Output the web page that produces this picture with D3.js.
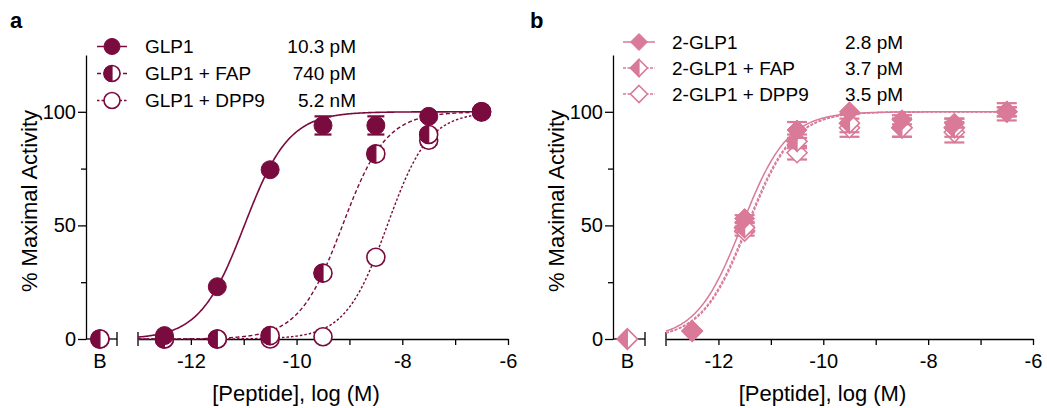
<!DOCTYPE html>
<html>
<head>
<meta charset="utf-8">
<script src="https://cdn.jsdelivr.net/npm/d3@7"></script>
<style>
  html, body { margin: 0; padding: 0; background: #fff; }
  svg { display: block; font-family: "Liberation Sans", Arial, sans-serif; }
</style>
</head>
<body>
<svg id="chart" width="1047" height="408"></svg>
<script>
// Log molar doses shared by both panels
const doses = [-12.5, -11.5, -10.5, -9.5, -8.5, -7.5, -6.5];

// Panel a: GLP1 series
const aLabels = ["GLP1", "GLP1 + FAP", "GLP1 + DPP9"];
const aEC50Text = ["10.3 pM", "740 pM", "5.2 nM"];
const aEC50Molar = [10.3e-12, 740e-12, 5.2e-9];
const aHill = [1.03, 1.05, 1.1];
const aBaseline = [null, 0, 0];
const glp1 = [1.5, 23, 74.5, 94, 94, 98, 100];
const glp1Err = [0.5, 1, 1, 4, 4, 1.5, 0.5];
const glp1Fap = [0, 0, 1.5, 29, 81.5, 90, 100];
const glp1FapErr = [0.5, 0.5, 1, 1.5, 2, 2, 0.5];
const glp1Dpp9 = [0, 0, 0, 1, 36, 87.5, 100];
const glp1Dpp9Err = [0.5, 0.5, 0.5, 1, 1.5, 2, 0.5];

// Panel b: 2-GLP1 series
const bLabels = ["2-GLP1", "2-GLP1 + FAP", "2-GLP1 + DPP9"];
const bEC50Text = ["2.8 pM", "3.7 pM", "3.5 pM"];
const bEC50Molar = [2.8e-12, 3.7e-12, 3.5e-12];
const bHill = [1.0, 1.0, 1.0];
const bBaseline = [null, 0, 0];
const glp2 = [3.5, 53, 92, 100, 96.5, 95, 100];
const glp2Err = [1, 1.5, 3.5, 1, 2, 2, 3.8];
const glp2Fap = [3.5, 49, 87, 95, 93, 93, 100];
const glp2FapErr = [0.5, 2, 3, 4, 4, 4, 2];
const glp2Dpp9 = [3.5, 47.5, 82, 93, 93, 91, 100];
const glp2Dpp9Err = [0.5, 2, 3, 4, 4, 4.5, 2];

// Axis ticks
const xTicks = [-12, -11, -10, -9, -8, -7, -6];
const xTickLabels = [-12, -10, -8, -6];
const yTicks = [0, 25, 50, 75, 100];
const yTickLabels = [0, 50, 100];
const baselineCat = ["B"];

const svg = d3.select("#chart");

function markerPath(shape, r) {
  if (shape === "circle") {
    return { full: d3.path(), r };
  }
  return null;
}

function drawMarker(g, shape, fillMode, cx, cy, r, color) {
  const m = g.append("g").attr("transform", `translate(${cx},${cy})`);
  const fullPath = shape === "circle"
    ? `M0,${-r}A${r},${r} 0 1,1 0,${r}A${r},${r} 0 1,1 0,${-r}Z`
    : `M0,${-r}L${r},0L0,${r}L${-r},0Z`;
  const leftPath = shape === "circle"
    ? `M0,${-r}A${r},${r} 0 0,0 0,${r}Z`
    : `M0,${-r}L${-r},0L0,${r}Z`;
  if (fillMode === "full") {
    m.append("path").attr("d", fullPath).attr("fill", color).attr("stroke", color).attr("stroke-width", 1);
  } else {
    m.append("path").attr("d", fullPath).attr("fill", "#fff").attr("stroke", color).attr("stroke-width", 1.6);
    if (fillMode === "half") {
      m.append("path").attr("d", leftPath).attr("fill", color).attr("stroke", color).attr("stroke-width", 1.2);
    }
  }
}

function drawPanel(cfg) {
  const g = svg.append("g");
  const x = d3.scaleLinear().domain([-13, -6]).range([cfg.x0, cfg.x1]);
  const y = d3.scaleLinear().domain([0, 125]).range([339, 55]);
  const xb = d3.scalePoint().domain(baselineCat).range([cfg.yAxisX, cfg.bEnd]).align(0.45).padding(0.5);

  // Panel letter
  g.append("text").attr("x", cfg.letterX).attr("y", 28)
    .attr("font-size", 22).attr("font-weight", "bold").text(cfg.letter);

  // Y axis
  const yAxis = g.append("g").attr("transform", `translate(${cfg.yAxisX},0)`)
    .call(d3.axisLeft(y).tickValues(yTicks).tickSizeOuter(0).tickPadding(3)
      .tickFormat(d => yTickLabels.includes(d) ? String(d) : ""));
  yAxis.selectAll(".tick line").attr("x2", d => yTickLabels.includes(d) ? -8 : -5);
  yAxis.selectAll(".tick text").attr("x", -10);
  yAxis.selectAll("text").attr("font-size", 20).attr("font-family", "Liberation Sans, Arial, sans-serif").attr("fill", "#000");
  yAxis.selectAll("path, line").attr("stroke", "#000").attr("stroke-width", 1.3);

  // Y axis title
  g.append("text")
    .attr("transform", `translate(${cfg.yAxisX - 49},201) rotate(-90)`)
    .attr("text-anchor", "middle").attr("font-size", 22).text("% Maximal Activity");

  // Baseline ("B") axis segment
  g.append("line").attr("x1", cfg.yAxisX).attr("x2", cfg.bEnd).attr("y1", y(0)).attr("y2", y(0))
    .attr("stroke", "#000").attr("stroke-width", 1.3);
  g.append("line").attr("x1", cfg.bEnd).attr("x2", cfg.bEnd).attr("y1", y(0) - 7).attr("y2", y(0) + 7)
    .attr("stroke", "#000").attr("stroke-width", 1.3);
  g.append("text").attr("x", xb("B")).attr("y", 368).attr("text-anchor", "middle")
    .attr("font-size", 20).text("B");

  // Main X axis
  const xAxis = g.append("g").attr("transform", `translate(0,${y(0)})`)
    .call(d3.axisBottom(x).tickValues(xTicks).tickSize(6).tickSizeOuter(0).tickPadding(9)
      .tickFormat(d => xTickLabels.includes(d) ? String(d) : ""));
  xAxis.selectAll("text").attr("font-size", 20).attr("font-family", "Liberation Sans, Arial, sans-serif").attr("fill", "#000");
  xAxis.selectAll("path, line").attr("stroke", "#000").attr("stroke-width", 1.3);
  g.append("line").attr("x1", x(-13)).attr("x2", x(-13)).attr("y1", y(0) - 7).attr("y2", y(0) + 7)
    .attr("stroke", "#000").attr("stroke-width", 1.3);

  // X axis title
  g.append("text").attr("x", (x(-13) + x(-6)) / 2 - 27).attr("y", 401)
    .attr("text-anchor", "middle").attr("font-size", 22).text("[Peptide], log (M)");

  // Fitted dose-response curves
  const curveX = d3.range(-13, -6.5 + 1e-9, 0.02);
  const line = d3.line().x(d => x(d[0])).y(d => y(d[1])).curve(d3.curveLinear);
  cfg.series.forEach((s, i) => {
    const logEC = Math.log10(s.ec50);
    const pts = curveX.map(v => [v, 100 / (1 + Math.pow(10, (logEC - v) * s.hill))]);
    g.append("path").datum(pts).attr("d", line)
      .attr("fill", "none").attr("stroke", cfg.color)
      .attr("stroke-width", s.curveWidth)
      .attr("stroke-dasharray", s.dash || null);
  });

  // Points and error bars, drawn bottom series first
  const order = [2, 1, 0];
  order.forEach(i => {
    const s = cfg.series[i];
    s.values.forEach((v, k) => {
      const cx = x(doses[k]);
      const e = s.err[k];
      if (e > 1.2) {
        g.append("line").attr("x1", cx).attr("x2", cx).attr("y1", y(v - e)).attr("y2", y(v + e))
          .attr("stroke", cfg.color).attr("stroke-width", 2);
        [v - e, v + e].forEach(yy => {
          g.append("line").attr("x1", cx - cfg.cap).attr("x2", cx + cfg.cap).attr("y1", y(yy)).attr("y2", y(yy))
            .attr("stroke", cfg.color).attr("stroke-width", 2.2);
        });
      }
    });
    if (s.baseline !== null) {
      drawMarker(g, cfg.shape, s.fill, xb("B"), y(s.baseline), cfg.r, cfg.color);
    }
    s.values.forEach((v, k) => {
      drawMarker(g, cfg.shape, s.fill, x(doses[k]), y(v), cfg.r, cfg.color);
    });
  });

  // Legend
  cfg.series.forEach((s, i) => {
    const ly = cfg.legendY[i];
    g.append("line").attr("x1", cfg.legLineX0).attr("x2", cfg.legLineX1).attr("y1", ly).attr("y2", ly)
      .attr("stroke", cfg.color).attr("stroke-width", 1.5).attr("stroke-dasharray", s.dash || null);
    drawMarker(g, cfg.shape, s.fill, (cfg.legLineX0 + cfg.legLineX1) / 2, ly, cfg.legR, cfg.color);
    g.append("text").attr("x", cfg.legTextX).attr("y", ly + 6.5).attr("font-size", 19).text(s.label);
    g.append("text").attr("x", cfg.legValX).attr("y", ly + 6.5).attr("font-size", 19)
      .attr("text-anchor", cfg.legValAnchor).text(s.ec50Text);
  });
}

const colorA = "#7a0b3e";
const colorB = "#d87a98";

drawPanel({
  letter: "a", letterX: 10,
  x0: 138, x1: 508, yAxisX: 86, bEnd: 117,
  color: colorA, shape: "circle", r: 9, legR: 8, cap: 8.5,
  legendY: [46.5, 73.5, 100.5], legLineX0: 97, legLineX1: 127, legTextX: 145, legValX: 356, legValAnchor: "end",
  series: [
    { label: aLabels[0], ec50Text: aEC50Text[0], ec50: aEC50Molar[0], hill: aHill[0], values: glp1, err: glp1Err, baseline: aBaseline[0], fill: "full", dash: null, curveWidth: 1.6 },
    { label: aLabels[1], ec50Text: aEC50Text[1], ec50: aEC50Molar[1], hill: aHill[1], values: glp1Fap, err: glp1FapErr, baseline: aBaseline[1], fill: "half", dash: "4,2.5", curveWidth: 1.4 },
    { label: aLabels[2], ec50Text: aEC50Text[2], ec50: aEC50Molar[2], hill: aHill[2], values: glp1Dpp9, err: glp1Dpp9Err, baseline: aBaseline[2], fill: "open", dash: "2.5,2", curveWidth: 1.4 }
  ]
});

drawPanel({
  letter: "b", letterX: 530,
  x0: 666, x1: 1033, yAxisX: 613, bEnd: 645,
  color: colorB, shape: "diamond", r: 10, legR: 8.5, cap: 10,
  legendY: [42, 68, 94], legLineX0: 623, legLineX1: 655, legTextX: 672, legValX: 845, legValAnchor: "start",
  series: [
    { label: bLabels[0], ec50Text: bEC50Text[0], ec50: bEC50Molar[0], hill: bHill[0], values: glp2, err: glp2Err, baseline: bBaseline[0], fill: "full", dash: null, curveWidth: 1.5 },
    { label: bLabels[1], ec50Text: bEC50Text[1], ec50: bEC50Molar[1], hill: bHill[1], values: glp2Fap, err: glp2FapErr, baseline: bBaseline[1], fill: "half", dash: "3,1.5", curveWidth: 1.4 },
    { label: bLabels[2], ec50Text: bEC50Text[2], ec50: bEC50Molar[2], hill: bHill[2], values: glp2Dpp9, err: glp2Dpp9Err, baseline: bBaseline[2], fill: "open", dash: "3,1.5", curveWidth: 1.4 }
  ]
});
</script>
</body>
</html>
